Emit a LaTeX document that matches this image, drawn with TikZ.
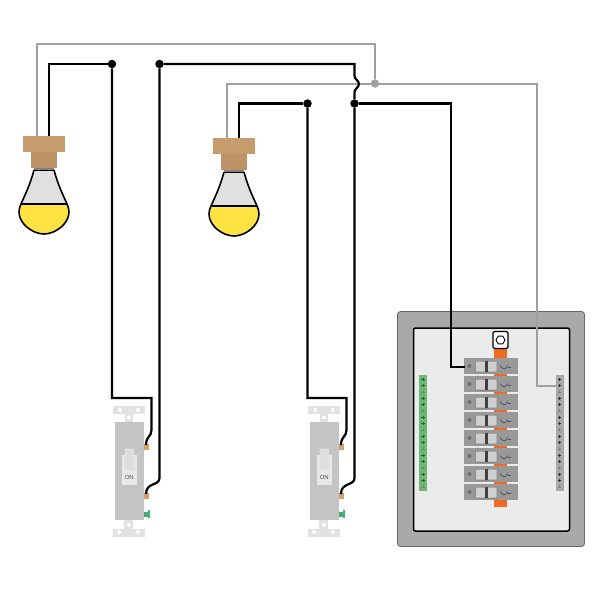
\documentclass[tikz,border=0pt]{standalone}
\usepackage{fontspec}
\setmainfont{Liberation Sans}
\usetikzlibrary{shapes.geometric}
\definecolor{capc}{HTML}{C69C6D}
\definecolor{glass}{HTML}{E0E0E0}
\definecolor{yel}{HTML}{FFE342}
\definecolor{wiregray}{HTML}{A0A0A0}
\definecolor{body}{HTML}{C4C4C4}
\definecolor{plate}{HTML}{E2E2E2}
\definecolor{toggle}{HTML}{E8E8E8}
\definecolor{brass}{HTML}{D9A066}
\definecolor{grn}{HTML}{3DB87A}
\definecolor{pgray}{HTML}{A9A9A9}
\definecolor{inner}{HTML}{EBEBEB}
\definecolor{org}{HTML}{F26A21}
\definecolor{brk}{HTML}{999999}
\definecolor{brkl}{HTML}{D0D0D0}
\definecolor{gbar}{HTML}{6DB673}
\tikzset{
  blk/.style={draw=black,line width=2.2pt,line join=miter},
  gry/.style={draw=wiregray,line width=2.4pt,line join=miter},
  jdot/.style={circle,fill=black,inner sep=0pt,minimum size=8.5pt},
  gdot/.style={circle,fill=wiregray,inner sep=0pt,minimum size=8.5pt},
}
\newcommand{\bulbshape}[2]{%
  \begin{scope}[shift={(#1,#2)}]
    \fill[capc] (23,136) rectangle (65,152);
    \fill[capc!95!black] (31,152) rectangle (57,168);
    \fill[glass] (34,170) -- (54,170) .. controls (58,185) and (63,195) .. (67,204) -- (21,204) .. controls (25,195) and (30,185) .. (34,170) -- cycle;
    \fill[yel] (21,204) .. controls (19.8,206.7) and (19,209) .. (19,212) .. controls (19,224) and (33,234) .. (44,234) .. controls (55,234) and (69,224) .. (69,212) .. controls (69,209) and (68.2,206.7) .. (67,204) -- cycle;
    \draw[black,line width=1.6pt,line join=round] (34,170) .. controls (30,185) and (25,195) .. (21,204) .. controls (19.8,206.7) and (19,209) .. (19,212) .. controls (19,224) and (33,234) .. (44,234) .. controls (55,234) and (69,224) .. (69,212) .. controls (69,209) and (68.2,206.7) .. (67,204) .. controls (63,195) and (58,185) .. (54,170);
    \draw[black,line width=1.2pt] (21,204) -- (67,204);
    \fill[gray] (34,168) rectangle (54,170.5);
    \draw[black,line width=1.1pt] (33.5,170.3) -- (54.5,170.3);
  \end{scope}}
\newcommand{\switchshape}[1]{%
  \begin{scope}[shift={(#1,0)}]
    \fill[plate] (113,406) rectangle (145,414);
    \fill[plate] (125,414) rectangle (133,422);
    \fill[plate] (113,529) rectangle (145,537);
    \fill[plate] (124,520) rectangle (133,529);
    \fill[white] (120,410) circle (2) (138,410) circle (2) (129,417.5) circle (2)
                 (129,525) circle (2) (119,532) circle (2) (138,532) circle (2);
    \fill[body] (115,422) rectangle (143.5,520);
    \fill[toggle] (121.5,455) rectangle (137,485);
    \fill[body!55!white] (125,448.5) -- (134,448.5) -- (135,470) -- (124,470) -- cycle;
    \fill[toggle!70!body] (127,452) rectangle (132,468);
    \fill[brass] (144,444) rectangle (149,450);
    \fill[brass] (144,492.5) rectangle (149,498.5);
    \fill[grn!70!gray] (144,511.5) rectangle (148,516.5);
    \fill[grn] (148,510) rectangle (149.5,518);
  \end{scope}}
\newcommand{\breakershape}[1]{%
  \begin{scope}[shift={(0,#1)}]
    \fill[brk] (464,358) rectangle (518,374);
    \draw[black!65,line width=.4pt] (469.5,366) circle (1.8) (468.3,366) -- (470.7,366) (469.5,364.8) -- (469.5,367.2);
    \fill[black!45] (475,360.5) rectangle (497.5,372.5);
    \fill[brkl] (476,361.5) rectangle (485.3,371.5) (487.7,361.5) rectangle (496.5,371.5);
    \fill[black!75] (485.3,361) rectangle (487.7,372);
    \draw[black!70,line width=.7pt] (500,365.5) .. controls (503,370) and (505,370) .. (508,365.5);
    \draw[black!70,line width=.6pt] (508,367) -- (511,367);
  \end{scope}}
\newcommand{\pinmark}[3]{%
  \draw[#3,line width=.6pt] (#1-1.6,#2) -- (#1+1.6,#2) (#1,#2-1.6) -- (#1,#2+1.6);}
\begin{document}
\begin{tikzpicture}[x=1pt,y=-1pt]
\useasboundingbox (0,0) rectangle (600,600);
\fill[white] (0,0) rectangle (600,600);

% panel
\draw[fill=pgray,draw=black!60,line width=.8pt,rounded corners=3pt] (397.5,311.5) rectangle (584.5,546.5);
\draw[fill=inner,draw=black,line width=1.5pt,rounded corners=2pt] (413.5,328) rectangle (569.5,531);
\fill[org] (494,349) rectangle (507,507);
\foreach \i in {0,...,7}{\breakershape{18*\i}}
\draw[fill=white,draw=black,line width=1.3pt,rounded corners=1.5pt] (493,331.5) rectangle (508,348.5);
\node[regular polygon,regular polygon sides=6,draw=black,line width=.9pt,minimum size=9pt,inner sep=0pt] (screw) at (500.5,340) {};
\fill[gbar] (419,375) rectangle (427,491);
\fill[pgray] (556,375) rectangle (563.5,491);
\foreach \i in {0,...,17}{
  \pgfmathsetmacro{\py}{379.2+\i*6.33}
  \pgfmathtruncatemacro{\m}{mod(\i,3)}
  \ifnum\m=2
    \pinmark{423}{\py}{green!25!black!60}
    \pinmark{559.7}{\py}{black!50}
  \else
    \pinmark{423}{\py}{green!30!black!85}
    \pinmark{559.7}{\py}{black!80}
  \fi
}

% named wire points
\coordinate (b1g) at (37,136);
\coordinate (b1k) at (49,136);
\coordinate (b2g) at (227,138);
\coordinate (b2k) at (239,138);
\coordinate (neutbar) at (557,386);
\coordinate (brk1) at (465,367);
\node[jdot] (j1) at (112,64) {};
\node[jdot] (j2) at (159.5,64) {};
\node[jdot] (j3) at (307.5,103.5) {};
\node[jdot] (j4) at (354.5,103.5) {};
\node[gdot] (j5) at (375,83.5) {};
\coordinate (s1a) at (146,445);
\coordinate (s1b) at (146,494);
\coordinate (s2a) at (341,445);
\coordinate (s2b) at (341,494);

% gray wires
\draw[gry] (b1g) |- (375,44) -- (j5);
\draw[gry] (b2g) |- (537,84) |- (neutbar);

% switches
\switchshape{0}
\switchshape{195}
\node[font=\fontsize{6}{6}\selectfont,text=black!70,inner sep=0pt] (on1) at (129.3,477) {ON};
\node[font=\fontsize{6}{6}\selectfont,text=black!70,inner sep=0pt] (on2) at (324.3,477) {ON};

% black wires
\draw[blk] (b1k) |- (j1);
\draw[blk] (j1) |- (151.5,398) -- (151.5,430) .. controls (151.5,437) and (146,436) .. (s1a);
\draw[blk] (j2) -- (159.5,478) .. controls (159.5,486) and (146,482) .. (s1b);
\draw[blk] (j2) -- (354.5,64) -- (354.5,76) .. controls (354.5,79) and (359,81) .. (359,84) .. controls (359,87) and (354.5,89) .. (354.5,92) -- (j4);
\draw[blk] (j4) -- (354.5,478) .. controls (354.5,486) and (341,482) .. (s2b);
\draw[blk] (j4) -| (451,367) -- (brk1);
\draw[blk] (b2k) |- (j3);
\draw[blk] (j3) |- (346.5,398) -- (346.5,430) .. controls (346.5,437) and (341,436) .. (s2a);

% bulbs
\bulbshape{0}{0}
\bulbshape{190}{2}
\end{tikzpicture}
\end{document}
